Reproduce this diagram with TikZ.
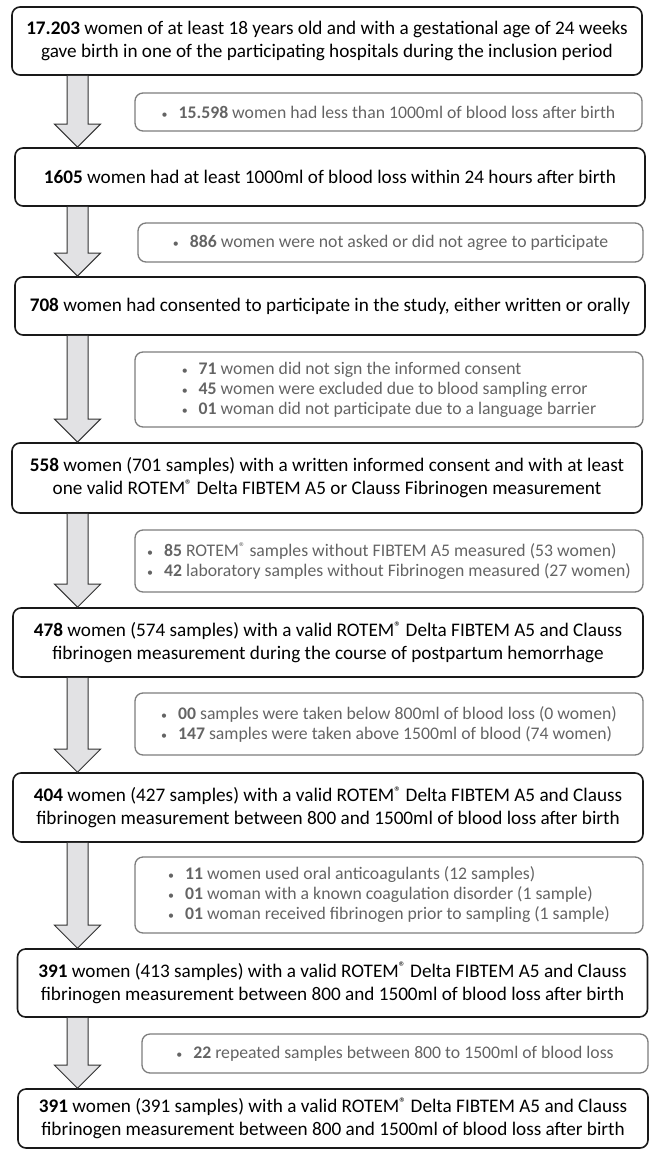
\documentclass[tikz,border=0pt]{standalone}
\usepackage{fontspec}
\setmainfont{Carlito}
\usetikzlibrary{positioning, calc}
\definecolor{sidetext}{RGB}{100,100,100}
\definecolor{sideline}{RGB}{125,125,125}
\definecolor{arrowfill}{RGB}{226,226,228}
\tikzset{
	mainbox/.style={draw=black!90, line width=1.6pt, rounded corners=8pt, minimum width=630pt, inner sep=0pt, align=center, font=\fontsize{19.2}{23}\selectfont},
	sidebox/.style={draw=sideline, line width=1.3pt, rounded corners=8pt, inner sep=0pt, align=left, text=sidetext, font=\fontsize{17.7}{20}\selectfont},
	flowarrow/.style={fill=arrowfill, draw=black!80, line width=1pt, line join=miter}
}
\newcommand{\itm}[2]{{\fontsize{12}{12}\selectfont\textbullet}\hspace{11pt}\textbf{#1} #2}
\newcommand{\rtm}{ROTEM\raisebox{0.28em}{\scalebox{0.72}{®}}}
\newcommand{\flowarrow}[2]{%
	\filldraw[flowarrow] (ax |- #1.south) ++(-10.5,0) -- ($(ax |- #2.north)+(-10.5,23)$) -- ++(-12.5,0) -- (ax |- #2.north) -- ++(23,23) -- ++(-12.5,0) -- ($(ax |- #1.south)+(10.5,0)$);
}

\begin{document}
\begin{tikzpicture}[x=1pt, y=1pt]
	\useasboundingbox (0,0) rectangle (650,-1151);
	\coordinate (ax) at (77.5,0);
	\node[mainbox, minimum height=68pt] (Births) at (327,-41) {\textbf{17.203} women of at least 18 years old and with a gestational age of 24 weeks\\ gave birth in one of the participating hospitals during the inclusion period};
	\node[sidebox, minimum width=507pt, minimum height=38pt] (NoPPH) at (388.5,-112) {\itm{15.598}{women had less than 1000ml of blood loss after birth}};
	\node[mainbox, minimum height=58pt] (PPH) at (330,-177) {\textbf{1605} women had at least 1000ml of blood loss within 24 hours after birth};
	\node[sidebox, minimum width=505pt, minimum height=39pt] (NotAsked) at (390.5,-242.5) {\itm{886}{women were not asked or did not agree to participate}};
	\node[mainbox, minimum height=58pt] (Consent) at (330,-306) {\textbf{708} women had consented to participate in the study, either written or orally};
	\node[sidebox, minimum width=508pt, minimum height=75pt] (ExclConsent) at (389,-389.5) {\itm{71}{women did not sign the informed consent}\\ \itm{45}{women were excluded due to blood sampling error}\\ \itm{01}{woman did not participate due to a language barrier}};
	\node[mainbox, minimum height=70pt] (Valid) at (327,-478) {\textbf{558} women (701 samples) with a written informed consent and with at least\\ one valid \rtm{} Delta FIBTEM A5 or Clauss Fibrinogen measurement};
	\node[sidebox, minimum width=508pt, minimum height=62pt] (ExclMeasure) at (389,-561) {\itm{85}{\rtm{} samples without FIBTEM A5 measured (53 women)}\\ \itm{42}{laboratory samples without Fibrinogen measured (27 women)}};
	\node[mainbox, minimum height=69pt] (Paired) at (328,-642.5) {\textbf{478} women (574 samples) with a valid \rtm{} Delta FIBTEM A5 and Clauss\\ fibrinogen measurement during the course of postpartum hemorrhage};
	\node[sidebox, minimum width=508pt, minimum height=62pt] (ExclRange) at (389,-724) {\itm{00}{samples were taken below 800ml of blood loss (0 women)}\\ \itm{147}{samples were taken above 1500ml of blood (74 women)}};
	\node[mainbox, minimum height=69pt] (InRange) at (328,-807.5) {\textbf{404} women (427 samples) with a valid \rtm{} Delta FIBTEM A5 and Clauss\\ fibrinogen measurement between 800 and 1500ml of blood loss after birth};
	\node[sidebox, minimum width=508pt, minimum height=76pt] (ExclMed) at (389,-895) {\itm{11}{women used oral anticoagulants (12 samples)}\\ \itm{01}{woman with a known coagulation disorder (1 sample)}\\ \itm{01}{woman received fibrinogen prior to sampling (1 sample)}};
	\node[mainbox, minimum height=68pt] (Analysed) at (332.5,-983) {\textbf{391} women (413 samples) with a valid \rtm{} Delta FIBTEM A5 and Clauss\\ fibrinogen measurement between 800 and 1500ml of blood loss after birth};
	\node[sidebox, minimum width=506pt, minimum height=39pt] (ExclRepeat) at (395,-1053.5) {\itm{22}{repeated samples between 800 to 1500ml of blood loss}};
	\node[mainbox, minimum height=59pt] (Final) at (333,-1118.5) {\textbf{391} women (391 samples) with a valid \rtm{} Delta FIBTEM A5 and Clauss\\ fibrinogen measurement between 800 and 1500ml of blood loss after birth};
	\flowarrow{Births}{PPH}
	\flowarrow{PPH}{Consent}
	\flowarrow{Consent}{Valid}
	\flowarrow{Valid}{Paired}
	\flowarrow{Paired}{InRange}
	\flowarrow{InRange}{Analysed}
	\flowarrow{Analysed}{Final}
\end{tikzpicture}
\end{document}
